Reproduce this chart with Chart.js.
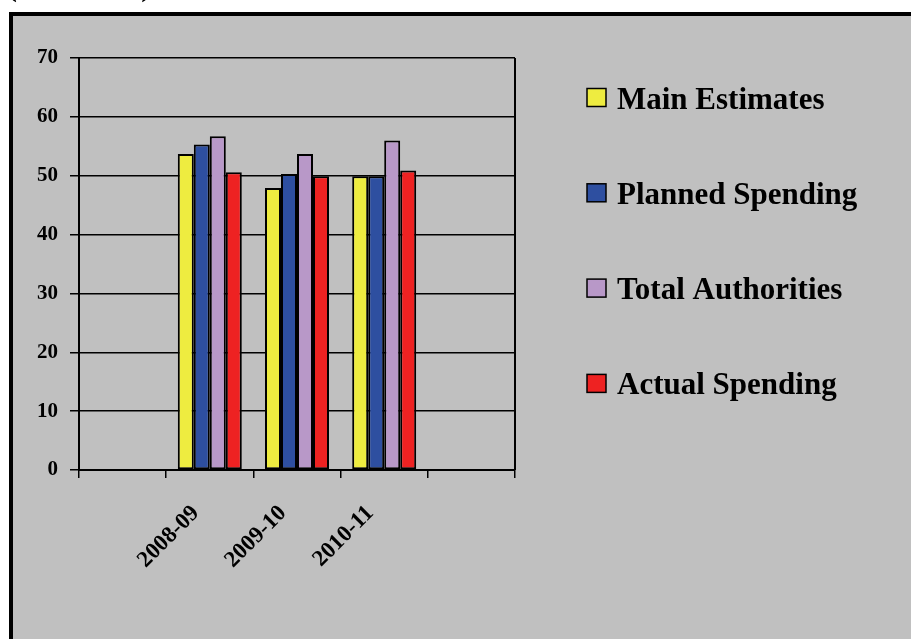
<!DOCTYPE html>
<html>
<head>
<meta charset="utf-8">
<script src="https://cdn.jsdelivr.net/npm/chart.js@4"></script>
<style>
  html, body { margin: 0; padding: 0; background: #ffffff; width: 911px; height: 639px; overflow: hidden; }
  #frame { position: absolute; left: 9px; top: 12px; width: 902px; height: 627px; background: #c0c0c0; border-left: 4px solid #000; border-top: 4px solid #000; box-sizing: border-box; }
  #c { position: absolute; left: 0; top: 0; }
</style>
</head>
<body>
<div id="frame"></div>
<canvas id="c" width="911" height="639"></canvas>
<script>
const unitLabel = "($ millions)";
const categories = ["", "2008-09", "2009-10", "2010-11", ""];
const seriesNames = ["Main Estimates", "Planned Spending", "Total Authorities", "Actual Spending"];
const mainEstimates = [null, 53.7, 47.9, 49.9, null];
const plannedSpending = [null, 55.3, 50.3, 49.9, null];
const totalAuthorities = [null, 56.7, 53.7, 56.0, null];
const actualSpending = [null, 50.6, 49.9, 50.9, null];
const yTickValues = [0, 10, 20, 30, 40, 50, 60, 70];

const colors = ["#eeec40", "#2e4fa0", "#b898c8", "#ee2222"];
const seriesValues = [mainEstimates, plannedSpending, totalAuthorities, actualSpending];

const sideLegend = {
  id: 'sideLegend',
  afterDraw(chart) {
    const ctx = chart.ctx;
    ctx.save();
    ctx.fillStyle = '#000';
    ctx.font = 'bold 30px "Liberation Serif", "Times New Roman", serif';
    ctx.textAlign = 'left';
    ctx.textBaseline = 'alphabetic';
    ctx.fillText(unitLabel, 7, -4);
    chart.data.datasets.forEach((ds, i) => {
      const cy = 97.5 + i * 95.3;
      ctx.fillStyle = ds.backgroundColor;
      ctx.fillRect(587, cy - 9, 19, 18);
      ctx.lineWidth = 1.5;
      ctx.strokeStyle = '#000';
      ctx.strokeRect(587, cy - 9, 19, 18);
      ctx.fillStyle = '#000';
      ctx.font = 'bold 31px "Liberation Serif", "Times New Roman", serif';
      ctx.fillText(ds.label, 617, cy + 11);
    });
    ctx.restore();
  }
};

const plotFrame = {
  id: 'plotFrame',
  afterDatasetsDraw(chart) {
    const a = chart.chartArea, ctx = chart.ctx;
    ctx.save();
    ctx.strokeStyle = '#000';
    ctx.lineWidth = 2;
    ctx.beginPath();
    ctx.moveTo(a.right, a.top);
    ctx.lineTo(a.right, a.bottom);
    ctx.stroke();
    ctx.restore();
  }
};

new Chart(document.getElementById('c'), {
  type: 'bar',
  data: {
    labels: categories,
    datasets: seriesNames.map((name, i) => ({
      label: name,
      data: seriesValues[i],
      backgroundColor: colors[i],
      borderColor: '#000',
      borderWidth: 2,
      borderSkipped: false,
      categoryPercentage: 0.734,
      barPercentage: 1.0
    }))
  },
  options: {
    responsive: false,
    animation: false,
    layout: { padding: { left: 0, top: 58, right: 396, bottom: 0 } },
    plugins: { legend: { display: false }, tooltip: { enabled: false } },
    scales: {
      x: {
        afterFit(s) { s.height = 169; },
        grid: { display: true, drawOnChartArea: false, drawTicks: true, tickLength: 8, color: '#000', lineWidth: 1.5, offset: true },
        border: { display: true, color: '#000', width: 2 },
        ticks: {
          color: '#000',
          font: { family: '"Liberation Serif", "Times New Roman", serif', size: 23, weight: 'bold' },
          minRotation: 45, maxRotation: 45, autoSkip: false,
          labelOffset: -14, padding: 22
        }
      },
      y: {
        min: 0, max: 70,
        afterFit(s) { s.width = 79; },
        afterBuildTicks(s) { s.ticks = yTickValues.map(v => ({ value: v })); },
        grid: { color: '#000', lineWidth: 1.5, drawTicks: true, tickLength: 9 },
        border: { display: true, color: '#000', width: 2 },
        ticks: {
          color: '#000', padding: 12,
          font: { family: '"Liberation Serif", "Times New Roman", serif', size: 21, weight: 'bold' }
        }
      }
    }
  },
  plugins: [plotFrame, sideLegend]
});
</script>
</body>
</html>
